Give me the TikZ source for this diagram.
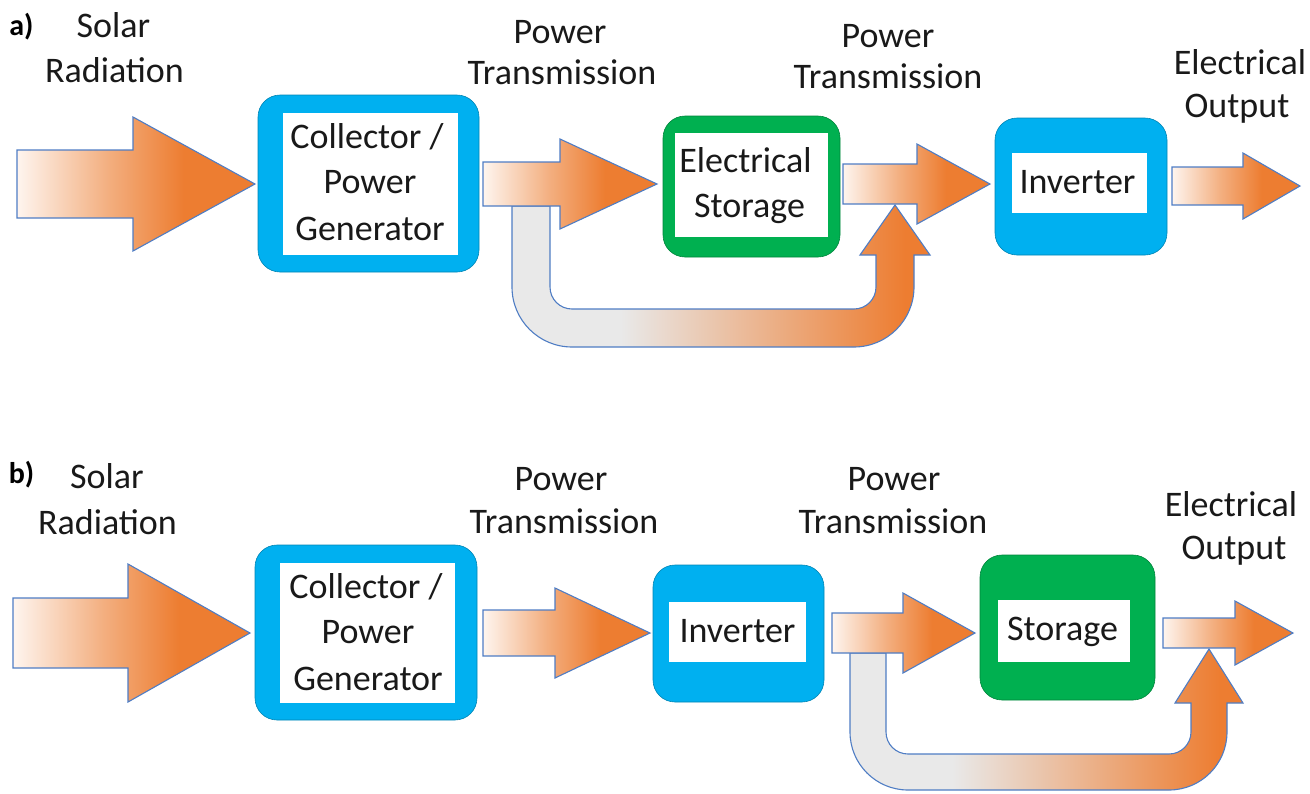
\documentclass[tikz,border=0pt]{standalone}
\usepackage{fontspec}
\setmainfont{Carlito}
\usetikzlibrary{calc}

\definecolor{boxblue}{RGB}{0,176,240}
\definecolor{boxgreen}{RGB}{0,176,80}
\definecolor{arrorange}{RGB}{237,125,49}
\definecolor{arrfade}{RGB}{254,245,239}
\definecolor{arrmid}{RGB}{243,175,128}
\definecolor{edgeblue}{RGB}{79,125,196}
\definecolor{bypassgrey}{RGB}{233,233,233}
\definecolor{txtcol}{RGB}{25,25,25}

\pgfdeclarehorizontalshading{orangefade}{100bp}{color(0bp)=(arrfade); color(25bp)=(arrfade); color(44bp)=(arrmid); color(60bp)=(arrorange); color(100bp)=(arrorange)}
\pgfdeclarehorizontalshading{bypassfade}{100bp}{color(0bp)=(bypassgrey); color(38bp)=(bypassgrey); color(72bp)=(arrorange); color(100bp)=(arrorange)}

\newcommand{\blockarrow}[5]{%
  \path[blockarr] ($(#1)+(0,-#3)$) -- ($(#2)+(-#5,-#3)$) -- ($(#2)+(-#5,-#4)$) -- (#2)
    -- ($(#2)+(-#5,#4)$) -- ($(#2)+(-#5,#3)$) -- ($(#1)+(0,#3)$) -- cycle;}

\tikzset{
  blockarr/.style={shade, shading=orangefade, draw=edgeblue, line width=1.1pt, line join=miter},
  bypassarr/.style={shade, shading=bypassfade, draw=edgeblue, line width=1.1pt, line join=miter},
  bluebox/.style={rectangle, rounded corners=22pt, fill=boxblue, draw=boxblue!75!black, line width=0.6pt, inner sep=0pt, outer sep=0pt},
  greenbox/.style={rectangle, rounded corners=22pt, fill=boxgreen, draw=boxgreen!75!black, line width=0.6pt, inner sep=0pt, outer sep=0pt},
  whitebox/.style={rectangle, fill=white, inner sep=0pt, outer sep=0pt},
  lbl/.style={font=\fontsize{36}{44}\selectfont, text=txtcol, inner sep=0pt, anchor=base},
  panellbl/.style={font=\fontsize{30}{34}\selectfont\bfseries, text=black, inner sep=0pt, anchor=base}
}

\begin{document}
\begin{tikzpicture}[x=1pt,y=-1pt]
\useasboundingbox (0,0) rectangle (1310,793);

% ================= panel a =================
\node[panellbl] (pa) at (21.5,35) {a)};
\node[lbl] (aSolar) at (113.5,37) {Solar};
\node[lbl] (aRad) at (114.5,82) {Radiation};
\node[lbl] (aPow1) at (560,43) {Power};
\node[lbl] (aTr1) at (562,84) {Transmission};
\node[lbl] (aPow2) at (888,47) {Power};
\node[lbl] (aTr2) at (888,88) {Transmission};
\node[lbl] (aEl) at (1240,74) {Electrical};
\node[lbl] (aOut) at (1237,117) {Output};

% boxes
\node[bluebox, minimum width=221pt, minimum height=177pt] (collA) at (368.5,183.5) {};
\node[whitebox, minimum width=175pt, minimum height=142pt] (collAin) at (370.5,184) {};
\node[lbl] (collAt1) at (367,148) {Collector /};
\node[lbl] (collAt2) at (370,193) {Power};
\node[lbl] (collAt3) at (370,240) {Generator};

\node[greenbox, minimum width=177pt, minimum height=141pt] (storeA) at (751.5,186.5) {};
\node[whitebox, minimum width=153pt, minimum height=104pt] (storeAin) at (751.5,185) {};
\node[lbl] (storeAt1) at (745.5,172) {Electrical};
\node[lbl] (storeAt2) at (749.5,217) {Storage};

\node[bluebox, minimum width=172pt, minimum height=137pt] (invA) at (1081,186.5) {};
\node[whitebox, minimum width=135pt, minimum height=60pt] (invAin) at (1079.5,183) {};
\node[lbl] (invAt) at (1077.5,193) {Inverter};

% arrow coordinates
\coordinate (a1s) at (17,184);
\coordinate (a1e) at ($(collA.west |- a1s)+(-3,0)$);
\coordinate (a2s) at ($(collA.east |- a1s)+(4,0)$);
\coordinate (a2e) at ($(storeA.west |- a1s)+(-6,0)$);
\coordinate (a3s) at ($(storeA.east |- a1s)+(3,0)$);
\coordinate (a3e) at ($(invA.west |- a1s)+(-5,0)$);
\coordinate (a4s) at ($(invA.east)+(5,-0.5)$);
\coordinate (a4e) at (1300,186);

% bypass (a)
\path[bypassarr] (512,206) -- (512,287) arc[start angle=180,end angle=90,radius=60]
  -- (854,347) arc[start angle=90,end angle=0,radius=60]
  -- (914,255) -- (930,255) -- (895,205) -- (860,255) -- (876,255)
  -- (876,287) arc[start angle=0,end angle=90,radius=22]
  -- (572,309) arc[start angle=90,end angle=180,radius=22]
  -- (550,206) -- cycle;

\blockarrow{a1s}{a1e}{34}{67}{122}
\blockarrow{a2s}{a2e}{22}{45}{97}
\blockarrow{a3s}{a3e}{20}{40}{73}
\blockarrow{a4s}{a4e}{19}{33}{57}

% ================= panel b =================
\node[panellbl] (pb) at (21.5,483) {b)};
\node[lbl] (bSolar) at (107,488) {Solar};
\node[lbl] (bRad) at (107.5,534) {Radiation};
\node[lbl] (bPow1) at (561,490) {Power};
\node[lbl] (bTr1) at (564,533) {Transmission};
\node[lbl] (bPow2) at (894,490) {Power};
\node[lbl] (bTr2) at (893,533) {Transmission};
\node[lbl] (bEl) at (1231,516) {Electrical};
\node[lbl] (bOut) at (1234,559) {Output};

\node[bluebox, minimum width=222pt, minimum height=175pt] (collB) at (366,632.5) {};
\node[whitebox, minimum width=175pt, minimum height=140pt] (collBin) at (367.5,633) {};
\node[lbl] (collBt1) at (366,598) {Collector /};
\node[lbl] (collBt2) at (368,643) {Power};
\node[lbl] (collBt3) at (368,690) {Generator};

\node[bluebox, minimum width=171pt, minimum height=137pt] (invB) at (738.5,633.5) {};
\node[whitebox, minimum width=137pt, minimum height=60pt] (invBin) at (737.5,632) {};
\node[lbl] (invBt) at (737.5,642) {Inverter};

\node[greenbox, minimum width=175pt, minimum height=145pt] (storeB) at (1067.5,627.5) {};
\node[whitebox, minimum width=132pt, minimum height=62pt] (storeBin) at (1064,631) {};
\node[lbl] (storeBt) at (1062.5,640) {Storage};

\coordinate (b1s) at (13,633);
\coordinate (b1e) at ($(collB.west |- b1s)+(-5,0)$);
\coordinate (b2s) at ($(collB.east |- b1s)+(6,0)$);
\coordinate (b2e) at ($(invB.west |- b1s)+(-3,0)$);
\coordinate (b3s) at ($(invB.east |- b1s)+(8,0)$);
\coordinate (b3e) at ($(storeB.west |- b1s)+(-5,0)$);
\coordinate (b4s) at ($(storeB.east |- b1s)+(8,0)$);
\coordinate (b4e) at (1293,633);

% bypass (b)
\path[bypassarr] (850,653) -- (850,732) arc[start angle=180,end angle=90,radius=58]
  -- (1169,790) arc[start angle=90,end angle=0,radius=58]
  -- (1227,703) -- (1243,703) -- (1209,649) -- (1175,703) -- (1191,703)
  -- (1191,732) arc[start angle=0,end angle=90,radius=22]
  -- (908,754) arc[start angle=90,end angle=180,radius=22]
  -- (886,653) -- cycle;

\blockarrow{b1s}{b1e}{35}{69}{122}
\blockarrow{b2s}{b2e}{23}{45}{95}
\blockarrow{b3s}{b3e}{20}{40}{72}
\blockarrow{b4s}{b4e}{15}{32}{58}
\end{tikzpicture}
\end{document}
